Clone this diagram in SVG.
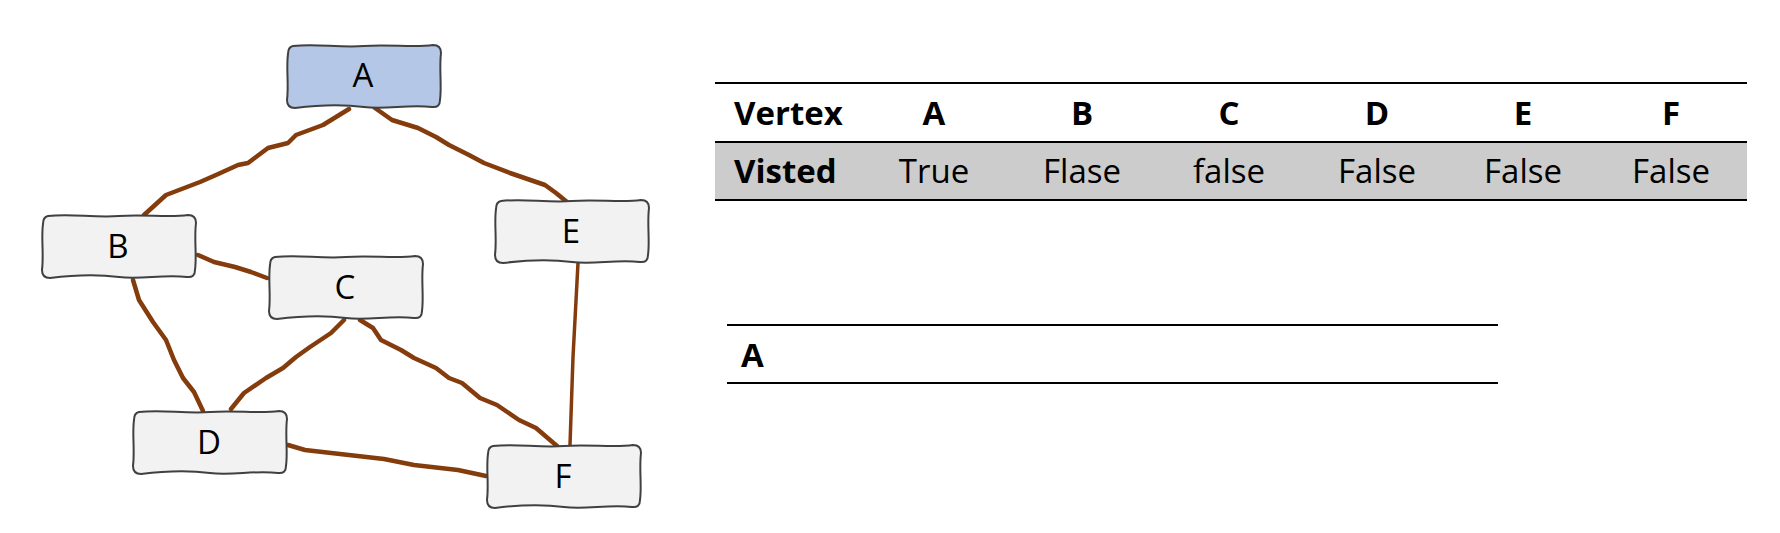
<svg xmlns="http://www.w3.org/2000/svg" xmlns:xlink="http://www.w3.org/1999/xlink" width="1780" height="533" viewBox="0 0 1780 533">
<style>
.box{fill:#f2f2f2;stroke:#404040;stroke-width:2;stroke-linejoin:round}
.boxA{fill:#b4c7e7}
.lbl{font-family:"Open Sans","Liberation Sans",sans-serif;font-size:33px;fill:#000;text-anchor:middle}
.edge{fill:none;stroke:#843c0c;stroke-width:4.5;stroke-linejoin:round;stroke-linecap:round}
.thin{stroke-width:3.5}
.th{font-family:"Open Sans","Liberation Sans",sans-serif;font-size:33px;font-weight:bold;fill:#000;text-anchor:middle}
.td{font-family:"Open Sans","Liberation Sans",sans-serif;font-size:33px;fill:#000;text-anchor:middle}
.rule{stroke:#000;stroke-width:2}
</style>
<defs>
<path id="wb" d="M7,3 C30,0 52,5 78,3 S128,5 147,2 Q155,2 155,10 C153,26 156,42 154,57 Q154,65 146,64 C122,61 100,67 78,64 S32,62 9,65 Q1,65 1,57 C3,41 0,25 2,11 Q2,4 7,3 Z"/>
</defs>
<g id="connectors">
<path class="edge" d="M349,109 L323,125 L296,135 L288,143 L268,148 L248,163 L238,165 L216,175 L200,182 L166,195 L144,215"/>
<path class="edge" d="M375,108 L392,120 L418,128 L436,137 L449,145 L469,155 L484,163 L510,173 L545,185 L556,193 L567,202"/>
<path class="edge" d="M198,255 L214,262 L235,267 L251,272 L267,278"/>
<path class="edge" d="M133,280 L139,300 L153,322 L166,340 L174,360 L183,378 L194,392 L203,411"/>
<path class="edge" d="M344,320 L331,333 L310,347 L296,357 L283,368 L266,378 L244,393 L231,409"/>
<path class="edge" d="M360,320 L373,328 L381,340 L401,350 L414,358 L436,368 L449,378 L462,383 L480,398 L497,405 L519,420 L536,428 L557,446"/>
<path class="edge thin" d="M578,263 L573,357 L570,445"/>
<path class="edge" d="M288,445 L305,450 L340,454 L384,459 L414,465 L458,470 L486,476"/>
</g>
<g id="node-A"><use xlink:href="#wb" class="box boxA" transform="translate(286,43)"/><text class="lbl" x="363" y="87">A</text></g>
<g id="node-B"><use xlink:href="#wb" class="box" transform="translate(41,213)"/><text class="lbl" x="118" y="258">B</text></g>
<g id="node-C"><use xlink:href="#wb" class="box" transform="translate(268,254)"/><text class="lbl" x="345" y="299">C</text></g>
<g id="node-D"><use xlink:href="#wb" class="box" transform="translate(132,409)"/><text class="lbl" x="209" y="454">D</text></g>
<g id="node-E"><use xlink:href="#wb" class="box" transform="translate(494,198)"/><text class="lbl" x="571" y="243">E</text></g>
<g id="node-F"><use xlink:href="#wb" class="box" transform="translate(486,443)"/><text class="lbl" x="563" y="488">F</text></g>
<g id="visited-table">
<rect x="715" y="142" width="1032" height="58" fill="#cccccc"/>
<line class="rule" x1="715" y1="83" x2="1747" y2="83"/>
<line class="rule" x1="715" y1="142" x2="1747" y2="142"/>
<line class="rule" x1="715" y1="200" x2="1747" y2="200"/>
<text class="th" x="734" y="125" style="text-anchor:start">Vertex</text>
<text class="th" x="934" y="125">A</text>
<text class="th" x="1082" y="125">B</text>
<text class="th" x="1229" y="125">C</text>
<text class="th" x="1377" y="125">D</text>
<text class="th" x="1523" y="125">E</text>
<text class="th" x="1671" y="125">F</text>
<text class="th" x="734" y="183" style="text-anchor:start">Visted</text>
<text class="td" x="934" y="183">True</text>
<text class="td" x="1082" y="183">Flase</text>
<text class="td" x="1229" y="183">false</text>
<text class="td" x="1377" y="183">False</text>
<text class="td" x="1523" y="183">False</text>
<text class="td" x="1671" y="183">False</text>
</g>
<g id="queue">
<line class="rule" x1="727" y1="325" x2="1498" y2="325"/>
<line class="rule" x1="727" y1="383" x2="1498" y2="383"/>
<text class="th" x="741" y="367" style="text-anchor:start">A</text>
</g>
</svg>
